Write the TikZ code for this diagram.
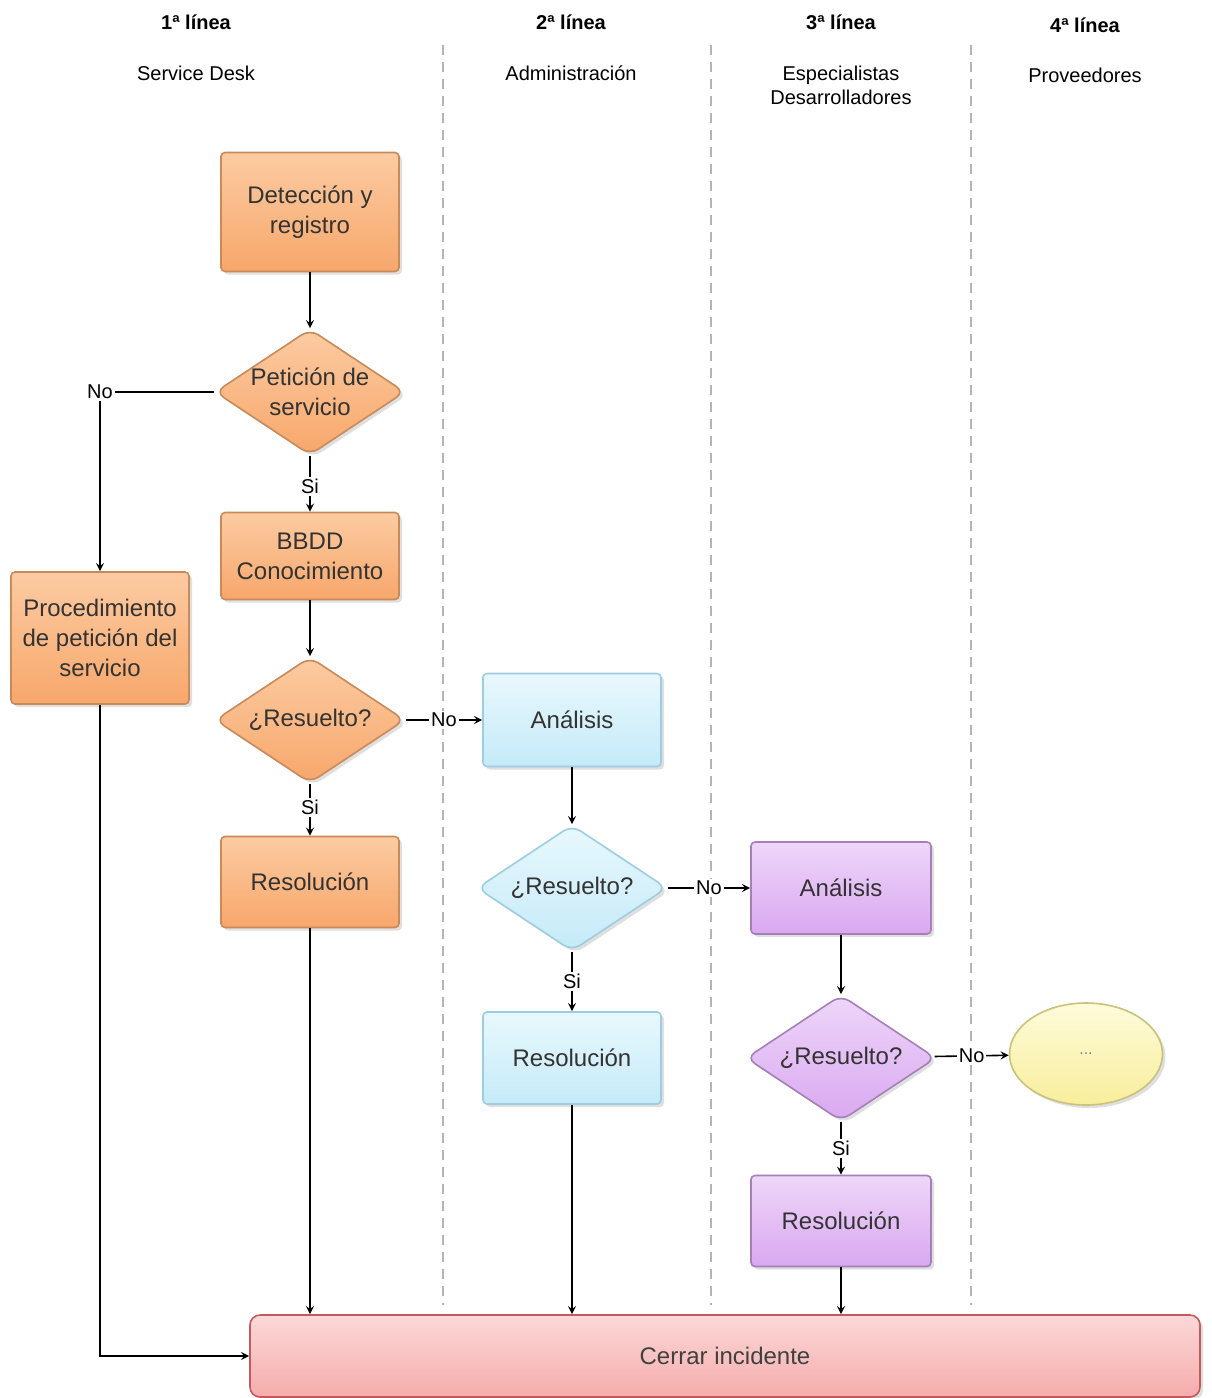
\documentclass[tikz,border=0pt]{standalone}
\usepackage{fontspec}
\setmainfont{Liberation Sans}
\usepackage{tikz}
\usetikzlibrary{shapes.geometric, shadows, positioning}

\definecolor{orline}{HTML}{C98A5A}
\definecolor{ortop}{HTML}{FCCBA2}
\definecolor{orbot}{HTML}{F7A76B}
\definecolor{blline}{HTML}{9CCDE3}
\definecolor{bltop}{HTML}{E8F8FD}
\definecolor{blbot}{HTML}{C5EAF8}
\definecolor{puline}{HTML}{A67FB8}
\definecolor{putop}{HTML}{EED6F9}
\definecolor{pubot}{HTML}{D9A8F0}
\definecolor{yeline}{HTML}{C9C27A}
\definecolor{yetop}{HTML}{FEFBDA}
\definecolor{yebot}{HTML}{F8EE9C}
\definecolor{piline}{HTML}{C45A5A}
\definecolor{pitop}{HTML}{FCD8D8}
\definecolor{pibot}{HTML}{F5ACAC}
\definecolor{laneline}{HTML}{B4B4B4}

\tikzset{
  box/.style={rectangle, rounded corners=2pt, draw, thick, minimum width=89pt,
    align=center, font=\fontsize{12}{15}\selectfont, text=black!80,
    drop shadow={shadow xshift=1.5pt, shadow yshift=-1.5pt, opacity=0.25}},
  ques/.style={diamond, rounded corners=5pt, draw, thick, aspect=1.53,
    minimum width=95pt, minimum height=63pt, inner xsep=-6pt, inner ysep=-4pt,
    align=center, font=\fontsize{12}{15}\selectfont, text=black!80,
    drop shadow={shadow xshift=1.5pt, shadow yshift=-1.5pt, opacity=0.25}},
  orng/.style={draw=orline, top color=ortop, bottom color=orbot},
  blue/.style={draw=blline, top color=bltop, bottom color=blbot},
  purp/.style={draw=puline, top color=putop, bottom color=pubot},
  lbl/.style={fill=white, inner sep=1pt, font=\fontsize{10}{12}\selectfont},
  lane/.style={draw=laneline, line width=0.8pt, dash pattern=on 5pt off 3.5pt},
  head/.style={font=\bfseries\fontsize{10}{12}\selectfont},
  sub/.style={font=\fontsize{10}{12}\selectfont, align=center}
}

\begin{document}
\begin{tikzpicture}[x=0.5pt, y=-0.5pt, >=stealth, thick]
  \useasboundingbox (0,0) rectangle (1211,1398);
  \fill[white] (0,0) rectangle (1211,1398);

  % lanes
  \node[head] (h1) at (196,22) {1ª línea};
  \node[head] (h2) at (571,22) {2ª línea};
  \node[head] (h3) at (841,22) {3ª línea};
  \node[head] (h4) at (1085,25) {4ª línea};
  \node[sub] (s1) at (196,73) {Service Desk};
  \node[sub] (s2) at (571,73) {Administración};
  \node[sub] (s3) at (841,85) {Especialistas\\Desarrolladores};
  \node[sub] (s4) at (1085,75) {Proveedores};
  \foreach \x in {443,711,971}
    \draw[lane] (\x,45) -- (\x,1305);

  % 1a linea
  \node[box, orng, minimum height=59.5pt] (det) at (310,212) {Detección y\\registro};
  \node[ques, orng] (pet) at (310,392) {Petición de\\servicio};
  \node[box, orng, minimum height=43.5pt] (bbdd) at (310,556) {BBDD\\Conocimiento};
  \node[box, orng, minimum height=66pt] (proc) at (100,638) {Procedimiento\\de petición del\\servicio};
  \node[ques, orng] (res1) at (310,720) {¿Resuelto?};
  \node[box, orng, minimum height=45.5pt] (sol1) at (310,882) {Resolución};

  % 2a linea
  \node[box, blue, minimum height=46.5pt] (ana2) at (572,720) {Análisis};
  \node[ques, blue] (res2) at (572,888) {¿Resuelto?};
  \node[box, blue, minimum height=46pt] (sol2) at (572,1058) {Resolución};

  % 3a linea
  \node[box, purp, minimum width=90pt, minimum height=46pt] (ana3) at (841,888) {Análisis};
  \node[ques, purp] (res3) at (841,1058) {¿Resuelto?};
  \node[box, purp, minimum width=90pt, minimum height=45.5pt] (sol3) at (841,1221) {Resolución};

  % 4a linea
  \node[ellipse, draw=yeline, thick, top color=yetop, bottom color=yebot,
    minimum width=76.5pt, minimum height=51pt, text=black!50,
    font=\fontsize{8}{10}\selectfont,
    drop shadow={shadow xshift=1.5pt, shadow yshift=-1.5pt, opacity=0.25}]
    (prov) at (1086,1054) {...};

  \node[rectangle, rounded corners=5pt, draw=piline, thick, top color=pitop,
    bottom color=pibot, minimum width=475pt, minimum height=41pt,
    font=\fontsize{12}{15}\selectfont, text=black!75,
    drop shadow={shadow xshift=1.5pt, shadow yshift=-1.5pt, opacity=0.25}]
    (cerrar) at (725,1356) {Cerrar incidente};

  % connectors
  \draw[->] (det) -- (pet);
  \draw[->] (pet.west) -| node[lbl] {No} (proc.north);
  \draw[->] (pet) -- node[lbl, pos=0.55] {Si} (bbdd);
  \draw[->] (bbdd) -- (res1);
  \draw[->] (res1) -- node[lbl] {No} (ana2);
  \draw[->] (res1) -- node[lbl, pos=0.45] {Si} (sol1);
  \draw[->] (ana2) -- (res2);
  \draw[->] (res2) -- node[lbl] {No} (ana3);
  \draw[->] (res2) -- node[lbl] {Si} (sol2);
  \draw[->] (ana3) -- (res3);
  \draw[->] (res3) -- node[lbl] {No} (prov);
  \draw[->] (res3) -- node[lbl] {Si} (sol3);
  \draw[->] (proc.south) |- (cerrar.west);
  \draw[->] (sol1) -- (sol1 |- cerrar.north);
  \draw[->] (sol2) -- (sol2 |- cerrar.north);
  \draw[->] (sol3) -- (sol3 |- cerrar.north);
\end{tikzpicture}
\end{document}
